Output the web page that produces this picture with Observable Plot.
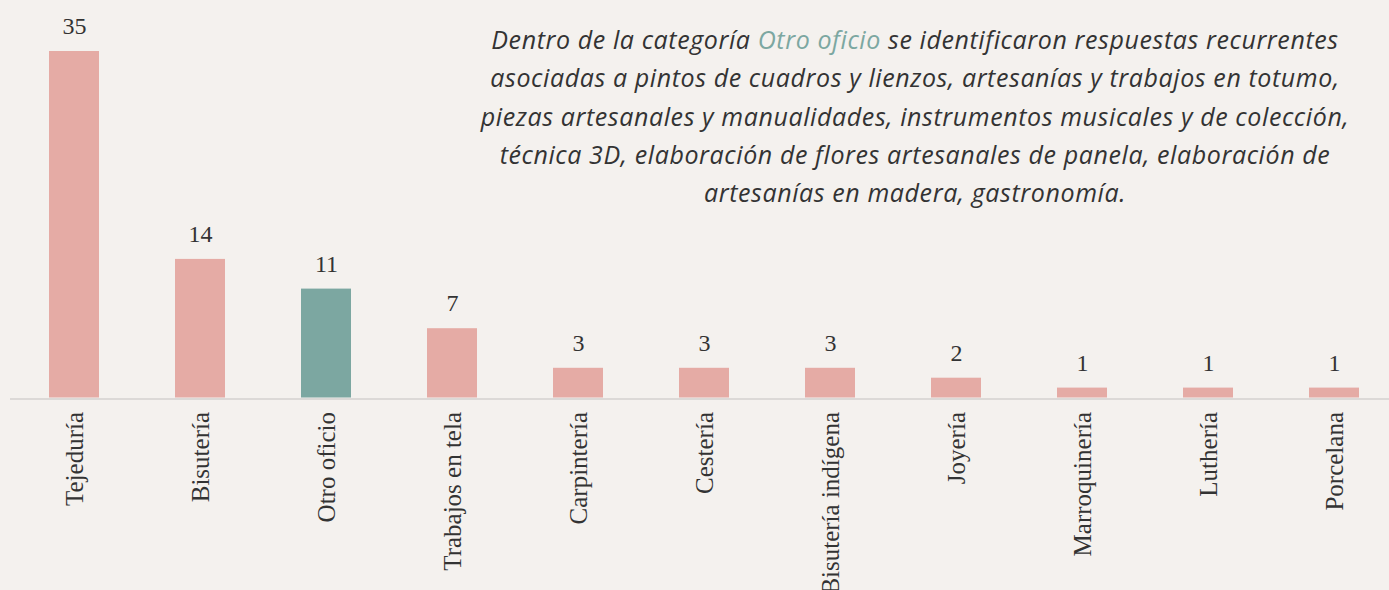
<!DOCTYPE html>
<html>
<head>
<meta charset="utf-8">
<script src="https://cdn.jsdelivr.net/npm/d3@7"></script>
<script src="https://cdn.jsdelivr.net/npm/@observablehq/plot@0.6"></script>
<style>
  html, body { margin: 0; padding: 0; background: #f4f1ee; overflow: hidden; }
  #wrap { position: relative; width: 1389px; height: 590px; }
  #note {
    position: absolute; left: 415px; top: 20px; width: 1000px;
    text-align: center; font-family: "Open Sans", sans-serif; font-style: italic;
    font-size: 25px; letter-spacing: 0.6px; line-height: 38.3px; color: #333333; white-space: nowrap;
  }
  #note .hl { color: #7ca7a1; }
</style>
</head>
<body>
<div id="wrap">
  <div id="chart"></div>
  <div id="note">Dentro de la categoría <span class="hl">Otro oficio</span> se identificaron respuestas recurrentes<br>asociadas a pintos de cuadros y lienzos, artesanías y trabajos en totumo,<br>piezas artesanales y manualidades, instrumentos musicales y de colección,<br>técnica 3D, elaboración de flores artesanales de panela, elaboración de<br>artesanías en madera, gastronomía.</div>
</div>
<script>
const categories = ["Tejeduría", "Bisutería", "Otro oficio", "Trabajos en tela", "Carpintería", "Cestería", "Bisutería indígena", "Joyería", "Marroquinería", "Luthería", "Porcelana"];
const values = [35, 14, 11, 7, 3, 3, 3, 2, 1, 1, 1];
const highlight = "Otro oficio";
const colorDefault = "#e5aba5";
const colorHighlight = "#7ca7a1";

const data = categories.map((c, i) => ({ cat: c, val: values[i] }));

const chart = Plot.plot({
  width: 1389,
  height: 590,
  marginLeft: 10,
  marginRight: 0,
  marginTop: 51,
  marginBottom: 192.5,
  style: { background: "#f4f1ee" },
  x: { domain: categories, range: [11, 1398], paddingInner: 0.6, paddingOuter: 0.3 },
  y: { domain: [0, 35], axis: null },
  marks: [
    Plot.barY(data, { x: "cat", y: "val", fill: d => d.cat === highlight ? colorHighlight : colorDefault }),
    Plot.ruleY([0], { stroke: "#dcd9d7", strokeWidth: 2, dy: 1 }),
    Plot.text(data, { x: "cat", y: "val", text: d => String(d.val), dy: -25, fill: "#333333", fontSize: 24, fontFamily: "Liberation Serif, serif" }),
    Plot.axisX({ tickSize: 0, tickPadding: 14, tickRotate: -90, fontSize: 25, fontFamily: "Liberation Serif, serif", color: "#333333", label: null })
  ]
});
document.getElementById("chart").appendChild(chart);
</script>
</body>
</html>
